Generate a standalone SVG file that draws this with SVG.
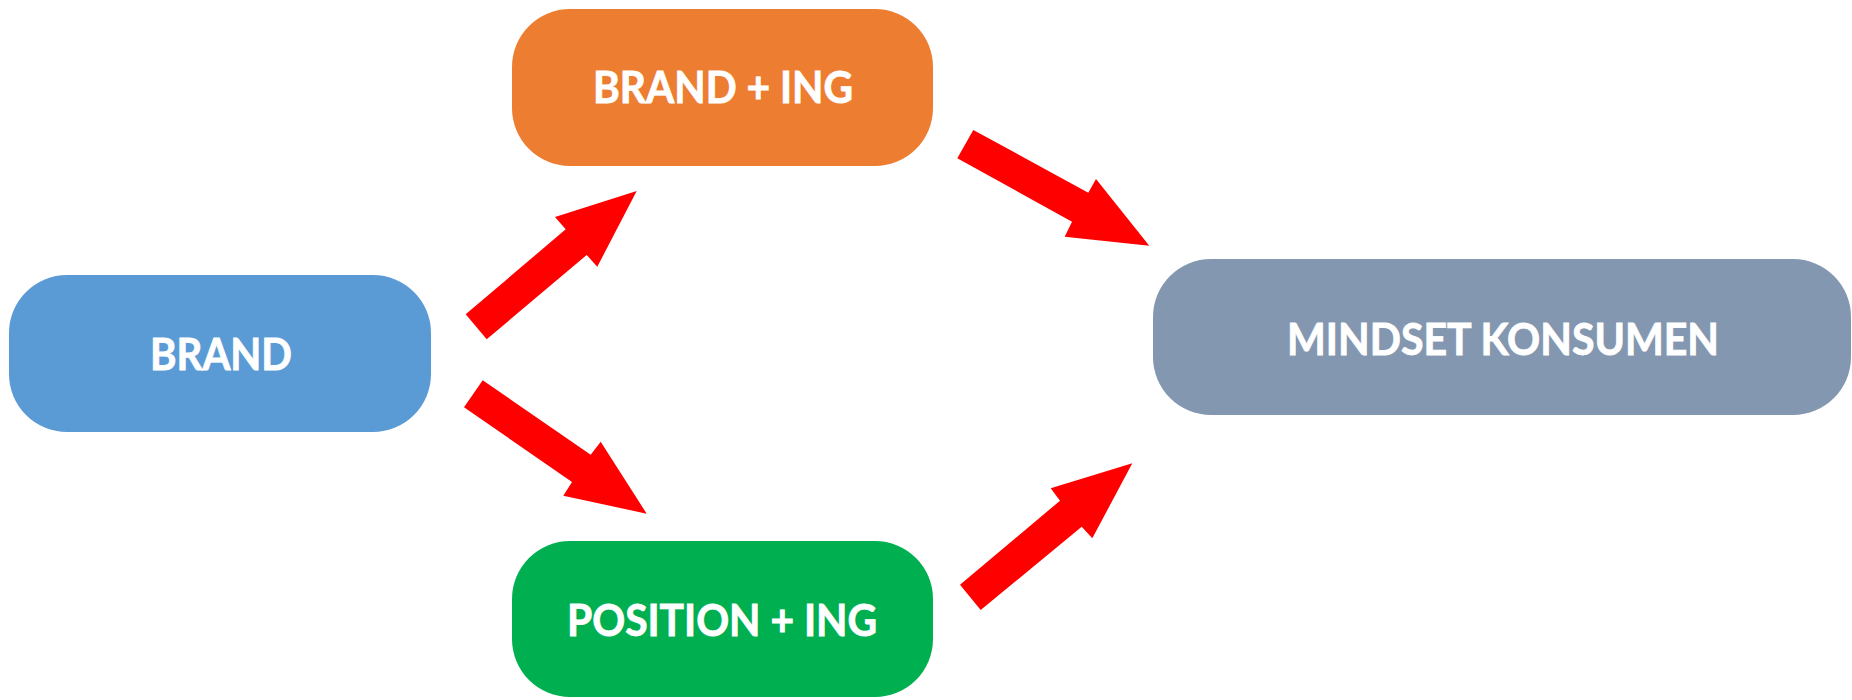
<svg xmlns="http://www.w3.org/2000/svg" width="1852" height="700" viewBox="0 0 1852 700">
<style>
.box{stroke:none}
.lbl{font-family:Lato,"Open Sans","Liberation Sans",sans-serif;font-weight:700;font-size:43px;fill:#FFFFFF;stroke:#FFFFFF;stroke-width:0.8px;text-anchor:middle}
.arrow{fill:#FF0000;stroke:none}
</style>
<rect x="0" y="0" width="1852" height="700" fill="#FFFFFF"/>
<g id="node-brand">
<rect class="box" x="9" y="275" width="422" height="157" rx="58" ry="58" fill="#5B9BD5"/>
<text class="lbl" x="221" y="370" textLength="142" lengthAdjust="spacingAndGlyphs">BRAND</text>
</g>
<g id="node-brand-ing">
<rect class="box" x="512" y="9" width="421" height="157" rx="58" ry="58" fill="#ED7D31"/>
<text class="lbl" x="723" y="103" textLength="260" lengthAdjust="spacingAndGlyphs">BRAND + ING</text>
</g>
<g id="node-position-ing">
<rect class="box" x="512" y="541" width="421" height="156" rx="58" ry="58" fill="#00B050"/>
<text class="lbl" x="722" y="636" textLength="310" lengthAdjust="spacingAndGlyphs">POSITION + ING</text>
</g>
<g id="node-mindset">
<rect class="box" x="1153" y="259" width="698" height="156" rx="58" ry="58" fill="#8497B0"/>
<text class="lbl" x="1503" y="355" textLength="432" lengthAdjust="spacingAndGlyphs">MINDSET KONSUMEN</text>
</g>
<g id="connectors">
<polygon class="arrow" points="465.7,314.3 565.7,229.3 555,217 636.7,191 597.3,266.7 586.7,255 486.7,339.3"/>
<polygon class="arrow" points="482.7,380.3 590.7,454.7 600.7,441.7 646.7,513.7 563.3,495.7 572,482 464,407.3"/>
<polygon class="arrow" points="973.3,130 1088.3,192.7 1096,179 1149.3,245.7 1064.7,236.7 1072,221.7 957.3,158.3"/>
<polygon class="arrow" points="960,584.7 1060,500.7 1050.7,488.3 1132.3,463.3 1092.3,538.3 1081.7,526.7 980.7,610"/>
</g>
</svg>
